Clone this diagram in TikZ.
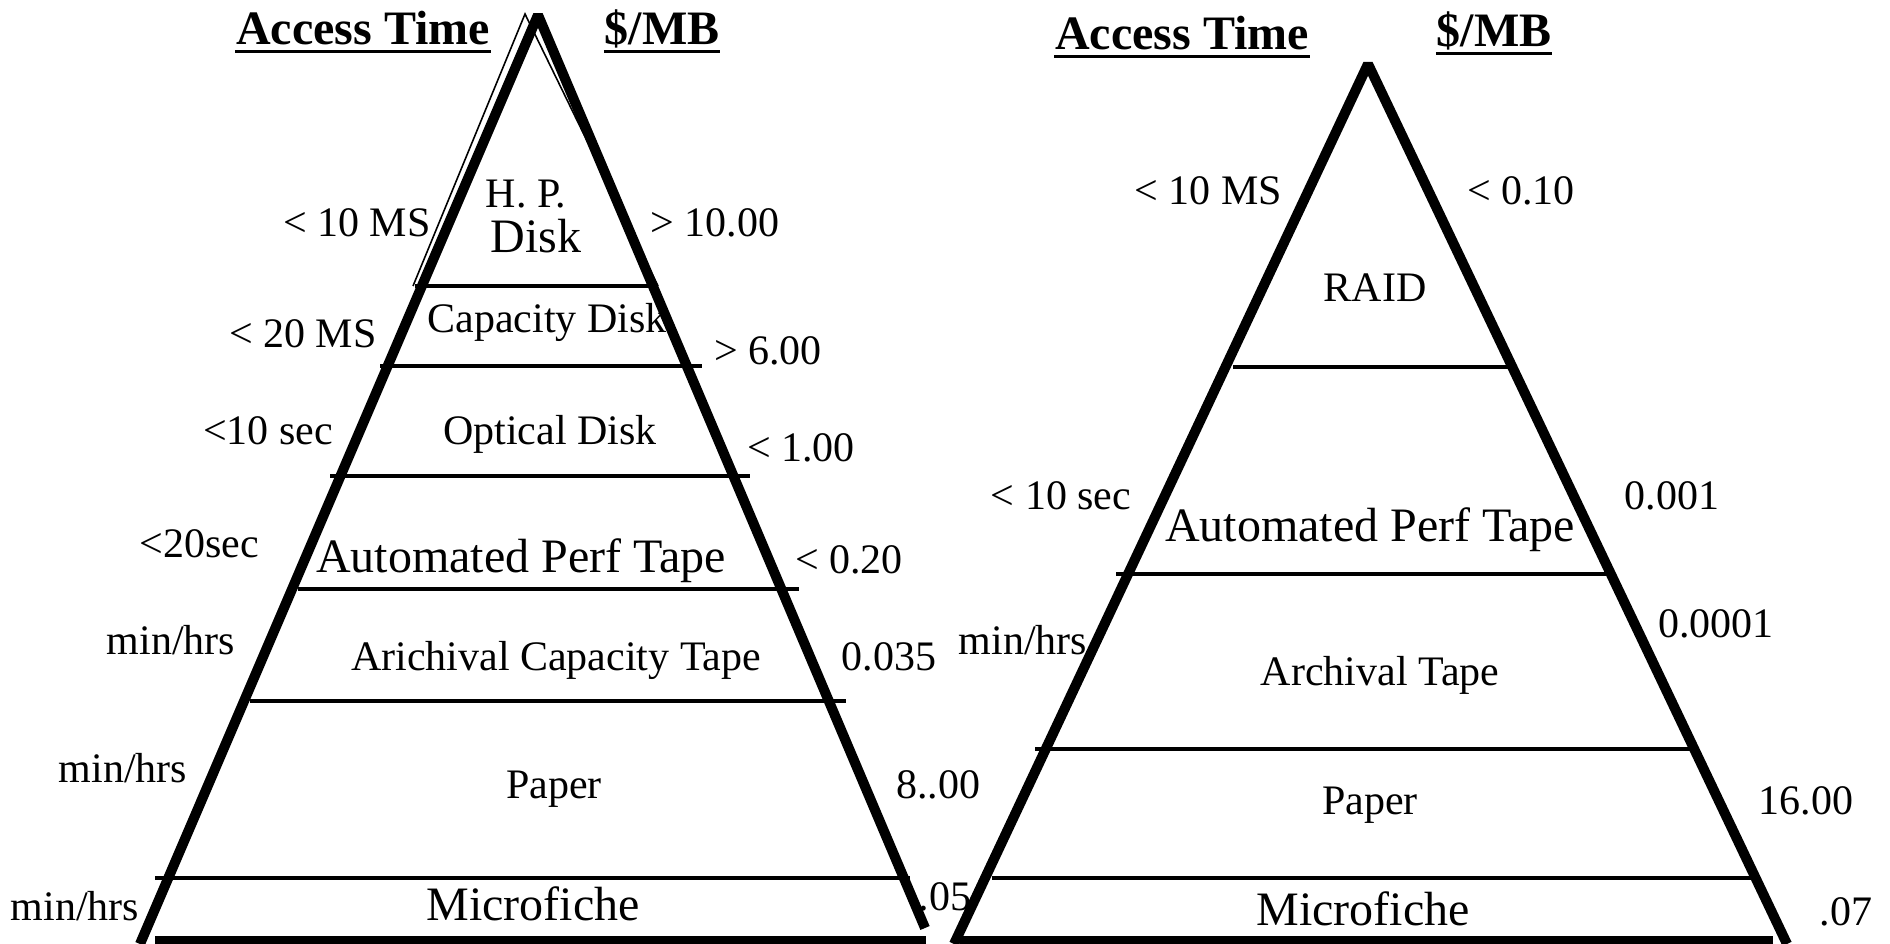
\documentclass[tikz,border=0pt]{standalone}
\usepackage{fontspec}
\setmainfont{Liberation Serif}
\usetikzlibrary{calc}

\begin{document}
\begin{tikzpicture}[
    x=0.1mm, y=-0.1mm,
    % thick pyramid sides
    side/.style={line width=2.85pt, line join=bevel},
    % thin outline at the top of the left pyramid
    thinside/.style={line width=0.45pt},
    % tier separators
    tier/.style={line width=0.95pt},
    floorbar/.style={line width=2.85pt},
    % labels
    lbl/.style={font=\fontsize{11.95}{14}\selectfont, anchor=base, inner sep=0pt},
    biglbl/.style={font=\fontsize{13.66}{16}\selectfont, anchor=base, inner sep=0pt},
    head/.style={font=\fontsize{13.66}{16}\selectfont\bfseries, anchor=base, inner sep=0pt},
    uline/.style={line width=1pt}
]
\useasboundingbox (0,0) rectangle (1890,944);

% ── Left pyramid ──────────────────────────────────────────────
\draw[thinside] (658,286) -- (525,14) -- (413,286);
\draw[side] (140,944) -- (538,15) -- (925,928);
\draw[tier] (415,286) -- (648,286);
\draw[tier] (380,366) -- (702,366);
\draw[tier] (330,476) -- (750,476);
\draw[tier] (298,589) -- (799,589);
\draw[tier] (250,701) -- (846,701);
\draw[tier] (155,878) -- (910,878);
\draw[floorbar] (155,941) -- (926,941);

% headers
\node[head] (accL) at (363,45) {Access Time};
\node[head] (costL) at (662,45) {\$/MB};
\draw[uline] ([yshift=-0.65mm]accL.base west) -- ([yshift=-0.65mm]accL.base east);
\draw[uline] ([yshift=-0.65mm]costL.base west) -- ([yshift=-0.65mm]costL.base east);

% tiers
\node[lbl] (hpL) at (526,208) {H. P.};
\node[biglbl] (hpDiskL) at (536,253) {Disk};
\node[lbl] (capL) at (547,333) {Capacity Disk};
\node[lbl] (optL) at (550,445) {Optical Disk};
\node[biglbl] (autoL) at (521,572) {Automated Perf Tape};
\node[lbl] (archL) at (556,670) {Arichival Capacity Tape};
\node[lbl] (paperL) at (554,798) {Paper};
\node[biglbl] (ficheL) at (533,920) {Microfiche};

% access times
\node[lbl] (tHpL) at (357,237) {< 10 MS};
\node[lbl] (tCapL) at (303,348) {< 20 MS};
\node[lbl] (tOptL) at (268,445) {<10 sec};
\node[lbl] (tAutoL) at (199,557) {<20sec};
\node[lbl] (tArchL) at (171,654) {min/hrs};
\node[lbl] (tPaperL) at (123,782) {min/hrs};
\node[lbl] (tFicheL) at (75,920) {min/hrs};

% cost per MB
\node[lbl] (cHpL) at (715,237) {> 10.00};
\node[lbl] (cCapL) at (768,365) {> 6.00};
\node[lbl] (cOptL) at (801,462) {< 1.00};
\node[lbl] (cAutoL) at (849,573) {< 0.20};
\node[lbl] (cArchL) at (889,670) {0.035};
\node[lbl] (cPaperL) at (938,798) {8..00};
\node[lbl] (cFicheL) at (945,910) {.05};

% ── Right pyramid ─────────────────────────────────────────────
\draw[side] (954,944) -- (1368,64) -- (1787,944);
\draw[tier] (1233,367) -- (1511,367);
\draw[tier] (1116,574) -- (1608,574);
\draw[tier] (1035,749) -- (1691,749);
\draw[tier] (992,878) -- (1753,878);
\draw[floorbar] (960,941) -- (1773,941);

% headers
\node[head] (accR) at (1182,50) {Access Time};
\node[head] (costR) at (1494,47) {\$/MB};
\draw[uline] ([yshift=-0.65mm]accR.base west) -- ([yshift=-0.65mm]accR.base east);
\draw[uline] ([yshift=-0.65mm]costR.base west) -- ([yshift=-0.65mm]costR.base east);

% tiers
\node[lbl] (raidR) at (1375,302) {RAID};
\node[biglbl] (autoR) at (1370,542) {Automated Perf Tape};
\node[lbl] (archR) at (1380,685) {Archival Tape};
\node[lbl] (paperR) at (1370,814) {Paper};
\node[biglbl] (ficheR) at (1363,925) {Microfiche};

% access times
\node[lbl] (tRaidR) at (1208,205) {< 10 MS};
\node[lbl] (tAutoR) at (1061,510) {< 10 sec};
\node[lbl] (tArchR) at (1023,654) {min/hrs};

% cost per MB
\node[lbl] (cRaidR) at (1521,205) {< 0.10};
\node[lbl] (cAutoR) at (1672,510) {0.001};
\node[lbl] (cArchR) at (1716,637) {0.0001};
\node[lbl] (cPaperR) at (1806,814) {16.00};
\node[lbl] (cFicheR) at (1846,925) {.07};
\end{tikzpicture}
\end{document}
